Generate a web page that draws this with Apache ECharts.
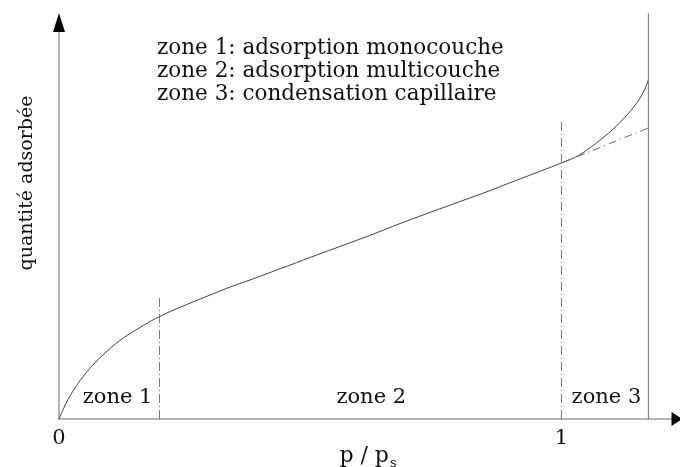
<!DOCTYPE html>
<html>
<head>
<meta charset="utf-8">
<script src="https://cdn.jsdelivr.net/npm/echarts@6/dist/echarts.min.js"></script>
<style>
  html, body { margin: 0; padding: 0; background: #fff; }
  #chart { width: 680px; height: 467px; }
</style>
</head>
<body>
<div id="chart"></div>
<script>
// Isotherme d'adsorption : quantité adsorbée en fonction de p/ps
const pRatio   = [0, 0.0086, 0.0185, 0.0285, 0.042, 0.055, 0.072, 0.0916, 0.112, 0.131, 0.151, 0.171, 0.185, 0.2,
                  0.228, 0.334, 0.38, 0.46, 0.513, 0.613, 0.679, 0.779, 0.845, 0.912, 1.0,
                  1.034, 1.068, 1.101, 1.134, 1.154, 1.167, 1.173];
const adsorbed = [0, 0.10, 0.20, 0.285, 0.385, 0.47, 0.565, 0.66, 0.75, 0.82, 0.885, 0.945, 0.985, 1.025,
                  1.09, 1.307, 1.39, 1.54, 1.64, 1.825, 1.955, 2.14, 2.26, 2.39, 2.56,
                  2.635, 2.755, 2.89, 3.06, 3.19, 3.31, 3.39];

// prolongement linéaire de la zone multicouche
const linearX = [1.0, 1.173];
const linearY = [2.56, 2.91];

// limites entre zones
const zoneLimitX   = [0.2, 1.0];
const zoneLimitTop = [1.24, 2.99];

// paroi verticale à droite
const wallX = 1.173;
const wallTop = 4.06;

// étiquettes des zones
const zoneNames  = ['zone 1', 'zone 2', 'zone 3'];
const zoneLabelX = [0.1165, 0.6215, 1.0896];
const zoneLabelY = 0.21;

const legendLines = [
  'zone 1: adsorption monocouche',
  'zone 2: adsorption multicouche',
  'zone 3: condensation capillaire'
];

const xMax = 1.23;
const yMax = 3.965;

const FONT = 'DejaVu Serif';
const axisGrey = '#9a9a9a';
const dashDot = [9, 3, 1, 3];

const chart = echarts.init(document.getElementById('chart'));

const limitSeries = zoneLimitX.map((x, i) => ({
  type: 'line',
  data: [[x, 0], [x, zoneLimitTop[i]]],
  symbol: 'none',
  silent: true,
  lineStyle: { color: '#777', width: 1, type: dashDot }
}));

chart.setOption({
  animation: false,
  title: {
    text: legendLines.join('\n'),
    left: 157,
    top: 37,
    padding: 0,
    textStyle: { fontFamily: FONT, fontSize: 21.5, fontWeight: 'normal', lineHeight: 23, color: '#111' }
  },
  grid: { left: 59, right: 3, top: 22.5, bottom: 48, outerBoundsMode: 'none', containLabel: false },
  xAxis: {
    type: 'value',
    min: 0,
    max: xMax,
    interval: 1,
    name: '{p|p / p}{s|s}',
    nameLocation: 'middle',
    nameGap: 26,
    nameMoveOverlap: false,
    nameTextStyle: {
      rich: {
        p: { fontFamily: FONT, fontSize: 22, color: '#111', verticalAlign: 'top' },
        s: { fontFamily: FONT, fontSize: 13, color: '#111', padding: [12, 0, 0, 1], verticalAlign: 'top' }
      }
    },
    axisLine: { show: true, lineStyle: { color: axisGrey, width: 1.5 } },
    axisTick: { show: false },
    splitLine: { show: false },
    axisLabel: { showMaxLabel: false, margin: 9, fontFamily: FONT, fontSize: 21, color: '#111' }
  },
  yAxis: {
    type: 'value',
    min: 0,
    max: yMax,
    axisLine: { show: true, lineStyle: { color: axisGrey, width: 1.5 } },
    axisTick: { show: false },
    axisLabel: { show: false },
    splitLine: { show: false }
  },
  graphic: [{
    type: 'text',
    x: 27,
    y: 183,
    rotation: Math.PI / 2,
    style: {
      text: 'quantité adsorbée',
      fontFamily: FONT,
      fontSize: 19,
      fill: '#111',
      align: 'center',
      verticalAlign: 'middle'
    }
  }],
  series: [
    {
      type: 'line',
      name: 'isotherme',
      data: pRatio.map((p, i) => [p, adsorbed[i]]),
      smooth: 0.3,
      symbol: 'none',
      silent: true,
      lineStyle: { color: '#444', width: 1 }
    },
    {
      type: 'line',
      data: linearX.map((x, i) => [x, linearY[i]]),
      symbol: 'none',
      silent: true,
      lineStyle: { color: '#666', width: 1, type: [8, 4, 1, 4] }
    },
    ...limitSeries,
    {
      type: 'line',
      data: [[wallX, 0], [wallX, wallTop]],
      symbol: 'none',
      clip: false,
      silent: true,
      lineStyle: { color: '#777', width: 1 }
    },
    {
      // flèches des axes
      type: 'scatter',
      clip: false,
      silent: true,
      data: [
        { value: [0, yMax], symbolSize: [12, 19], symbolRotate: 0 },
        { value: [xMax, 0], symbolSize: [14, 11], symbolRotate: -90 }
      ],
      symbol: 'triangle',
      itemStyle: { color: '#000', opacity: 1 }
    },
    {
      type: 'scatter',
      silent: true,
      symbolSize: 0,
      itemStyle: { opacity: 1 },
      data: zoneNames.map((n, i) => ({ name: n, value: [zoneLabelX[i], zoneLabelY] })),
      label: {
        show: true,
        position: 'inside',
        formatter: p => p.name,
        fontFamily: FONT,
        fontSize: 21,
        color: '#111'
      }
    }
  ]
});
</script>
</body>
</html>
